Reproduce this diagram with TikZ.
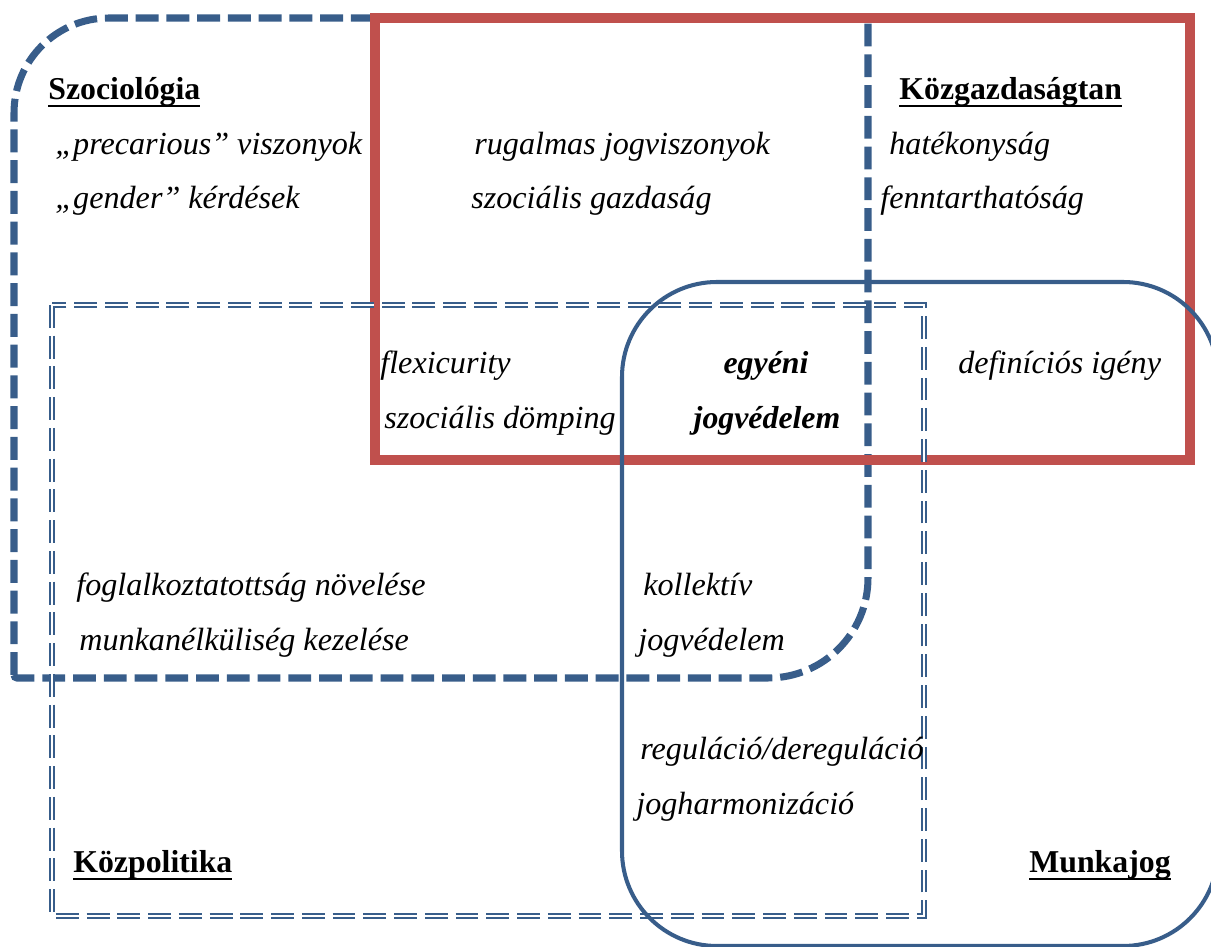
\documentclass[tikz,border=0pt]{standalone}
\usepackage{fontspec}
\setmainfont{Liberation Serif}
\usepackage{tikz}
\usetikzlibrary{positioning,calc}
\usepackage{xcolor}
\definecolor{kek}{HTML}{385D8A}
\definecolor{piros}{HTML}{C0504D}

\tikzset{
  szoveg/.style={anchor=base west, inner sep=0pt, font=\fontsize{18.3}{22}\selectfont\itshape},
  cimke/.style={anchor=base west, inner sep=0pt, font=\fontsize{18.1}{22}\selectfont\bfseries},
}
\newsavebox{\teruletbox}
\newcommand{\terulet}[1]{\sbox{\teruletbox}{#1}\rlap{\vrule width \wd\teruletbox height -2.9pt depth 4pt}\usebox{\teruletbox}}

\begin{document}
\begin{tikzpicture}[x=0.02cm, y=0.02cm]
\useasboundingbox (0,0) rectangle (1211,947);
\clip (0,0) rectangle (1211,947);

% Szociológia
\draw[kek, line width=4pt, dash pattern=on 13pt off 4.5pt]
  (14,272) -- (14,834) arc[start angle=180, end angle=90, radius=95]
  -- (868,929) -- (868,369) arc[start angle=0, end angle=-90, radius=100]
  -- (17,269) arc[start angle=270, end angle=180, radius=3] -- cycle;

% Közgazdaságtan
\draw[piros, line width=5.2pt] (375,929) rectangle (1190,487);

% Közpolitika
\draw[kek, line width=1.2pt, double=white, double distance=1.4pt, dash pattern=on 13pt off 4.5pt]
  (52,642) rectangle (924,31);

% Munkajog
\draw[kek, line width=2.3pt, rounded corners=1.9cm] (622,665) rectangle (1218,1);

% fejlécek
\node[cimke] (szoc) at (48,847) {\terulet{Szociológia}};
\node[cimke] (kozg) at (899,847) {\terulet{Közgazdaságtan}};
\node[cimke] (kozp) at (73,74) {\terulet{Közpolitika}};
\node[cimke] (munk) at (1029,74) {\terulet{Munkajog}};

% Szociológia
\node[szoveg] (prec) at (55,792) {„precarious” viszonyok};
\node[szoveg] (gend) at (55,738) {„gender” kérdések};

% Szociológia + Közgazdaságtan
\node[szoveg] (ruga) at (474,792) {rugalmas jogviszonyok};
\node[szoveg] (szga) at (471,738) {szociális gazdaság};

% Közgazdaságtan
\node[szoveg] (hate) at (889,792) {hatékonyság};
\node[szoveg] (fenn) at (880,738) {fenntarthatóság};

% közös rész
\node[szoveg] (flex) at (380,573) {flexicurity};
\node[szoveg] (domp) at (384,518) {szociális dömping};
\node[szoveg, anchor=base, font=\fontsize{18.1}{22}\selectfont\bfseries\itshape] (egye) at (766,573) {egyéni};
\node[szoveg, anchor=base, font=\fontsize{18.1}{22}\selectfont\bfseries\itshape] (jogv) at (767,518) {jogvédelem};
\node[szoveg] (defi) at (958,573) {definíciós igény};

% Közpolitika
\node[szoveg] (fogl) at (76,351) {foglalkoztatottság növelése};
\node[szoveg] (munn) at (79,296) {munkanélküliség kezelése};

% Munkajog
\node[szoveg] (koll) at (643,351) {kollektív};
\node[szoveg] (kjog) at (638,296) {jogvédelem};
\node[szoveg] (regu) at (640,187) {reguláció/dereguláció};
\node[szoveg] (harm) at (636,132) {jogharmonizáció};
\end{tikzpicture}
\end{document}
